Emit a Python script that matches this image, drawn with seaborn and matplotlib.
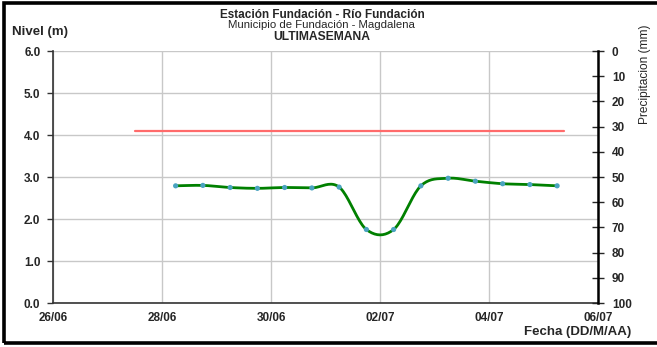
import numpy as np
import pandas as pd
import matplotlib
matplotlib.use("Agg")
import matplotlib.pyplot as plt
import matplotlib.dates as mdates
from matplotlib.patches import Rectangle
import seaborn as sns

# --- DATA ---
fechas = pd.date_range("2023-06-28 06:00", periods=15, freq="12h")
nivel = [2.79, 2.80, 2.75, 2.73, 2.75, 2.74, 2.76, 1.75, 1.75, 2.79,
         2.97, 2.90, 2.84, 2.82, 2.79]
alerta_inicio = pd.Timestamp("2023-06-27 12:00")
alerta_fin = pd.Timestamp("2023-07-05 09:00")
alerta_nivel = 4.1
x_ticks = pd.date_range("2023-06-26", "2023-07-06", freq="2D")
y_ticks = [0.0, 1.0, 2.0, 3.0, 4.0, 5.0, 6.0]
precip_ticks = list(range(0, 101, 10))

df = pd.DataFrame({"fecha": fechas, "nivel": nivel})


def catmull_rom(x, y, n=20):
    # Excel-style "smoothed line" through the readings
    x = np.asarray(x, float)
    y = np.asarray(y, float)
    px = np.concatenate([[2 * x[0] - x[1]], x, [2 * x[-1] - x[-2]]])
    py = np.concatenate([[2 * y[0] - y[1]], y, [2 * y[-1] - y[-2]]])
    xs, ys = [], []
    for i in range(1, len(px) - 2):
        t = np.linspace(0, 1, n, endpoint=False)
        for p, out in ((px, xs), (py, ys)):
            p0, p1, p2, p3 = p[i - 1], p[i], p[i + 1], p[i + 2]
            out.append(0.5 * ((2 * p1) + (-p0 + p2) * t
                              + (2 * p0 - 5 * p1 + 4 * p2 - p3) * t ** 2
                              + (-p0 + 3 * p1 - 3 * p2 + p3) * t ** 3))
    xs.append([x[-1]])
    ys.append([y[-1]])
    return np.concatenate(xs), np.concatenate(ys)


sns.set_style("white")
plt.rcParams["font.family"] = ["Liberation Sans", "DejaVu Sans"]

fig = plt.figure(figsize=(6.57, 3.47), dpi=100)
ax = fig.add_axes([53 / 657, 44 / 347, 545 / 657, 252 / 347])

# smoothed level curve + markers
t0 = df["fecha"].iloc[0]
dias = (df["fecha"] - t0) / pd.Timedelta(days=1)
sx, sy = catmull_rom(dias, df["nivel"])
suave = pd.DataFrame({"fecha": t0 + pd.to_timedelta(sx, unit="D"), "nivel": sy})
sns.lineplot(data=suave, x="fecha", y="nivel", ax=ax, color="#008000",
             linewidth=2, sort=False, estimator=None, zorder=3)
sns.scatterplot(data=df, x="fecha", y="nivel", ax=ax, color="#4aa3c0",
                s=14, edgecolor="none", zorder=4)

# alert level
alerta = pd.DataFrame({"fecha": [alerta_inicio, alerta_fin],
                       "nivel": [alerta_nivel, alerta_nivel]})
sns.lineplot(data=alerta, x="fecha", y="nivel", ax=ax, color="#ff6b6b",
             linewidth=1.6, zorder=2)

ax.set_xlim(x_ticks[0], x_ticks[-1])
ax.set_ylim(0, 6)
ax.set_xticks(x_ticks)
ax.xaxis.set_major_formatter(mdates.DateFormatter("%d/%m"))
ax.set_yticks(y_ticks)
ax.set_yticklabels([f"{v:.1f}" for v in y_ticks])
ax.grid(True, color="#c8c8c8", linewidth=1)
ax.set_axisbelow(True)
ax.set_xlabel("")
ax.set_ylabel("")
for s in ("top", "right"):
    ax.spines[s].set_visible(False)
for s in ("left", "bottom"):
    ax.spines[s].set_color("#333333")
    ax.spines[s].set_linewidth(1.2)
ax.tick_params(axis="y", direction="out", length=4, width=1, pad=5,
               labelsize=8.5, color="#333333")
ax.tick_params(axis="x", direction="inout", length=7, width=1, pad=3,
               labelsize=8.5, color="#333333")
for lab in ax.get_xticklabels() + ax.get_yticklabels():
    lab.set_fontweight("bold")

# precipitation axis (inverted)
ax2 = ax.twinx()
ax2.set_ylim(100, 0)
ax2.set_yticks(precip_ticks)
for s in ("top", "left", "bottom"):
    ax2.spines[s].set_visible(False)
ax2.spines["right"].set_color("black")
ax2.spines["right"].set_linewidth(1.8)
ax2.tick_params(axis="y", direction="inout", length=8, width=1, pad=6,
                labelsize=8.5)
for lab in ax2.get_yticklabels():
    lab.set_fontweight("bold")

# texts
fig.text(0.49, 1 - 18 / 347, "Estación Fundación - Río Fundación",
         ha="center", va="baseline", fontsize=8.5, fontweight="bold")
fig.text(0.49, 1 - 28.5 / 347, "Municipio de Fundación - Magdalena",
         ha="center", va="baseline", fontsize=8.2)
fig.text(0.49, 1 - 39.5 / 347, "ULTIMASEMANA",
         ha="center", va="baseline", fontsize=8.7, fontweight="bold")
fig.text(12 / 657, 1 - 32 / 347, "Nivel (m)", ha="left", va="center",
         fontsize=9.5, fontweight="bold")
fig.text(631 / 657, 1 - 332 / 347, "Fecha (DD/M/AA)", ha="right",
         va="center", fontsize=9.5, fontweight="bold")
fig.text(645 / 657, 1 - 74 / 347, "Precipitacion (mm)", ha="center",
         va="center", rotation=90, fontsize=8.6)

# outer frame like the original export
fig.patches.append(Rectangle((4 / 657, 4 / 347), 1.2, 1 - 7 / 347,
                             transform=fig.transFigure, fill=False,
                             edgecolor="black", linewidth=2.6))

fig.savefig("out.png", dpi=100)
